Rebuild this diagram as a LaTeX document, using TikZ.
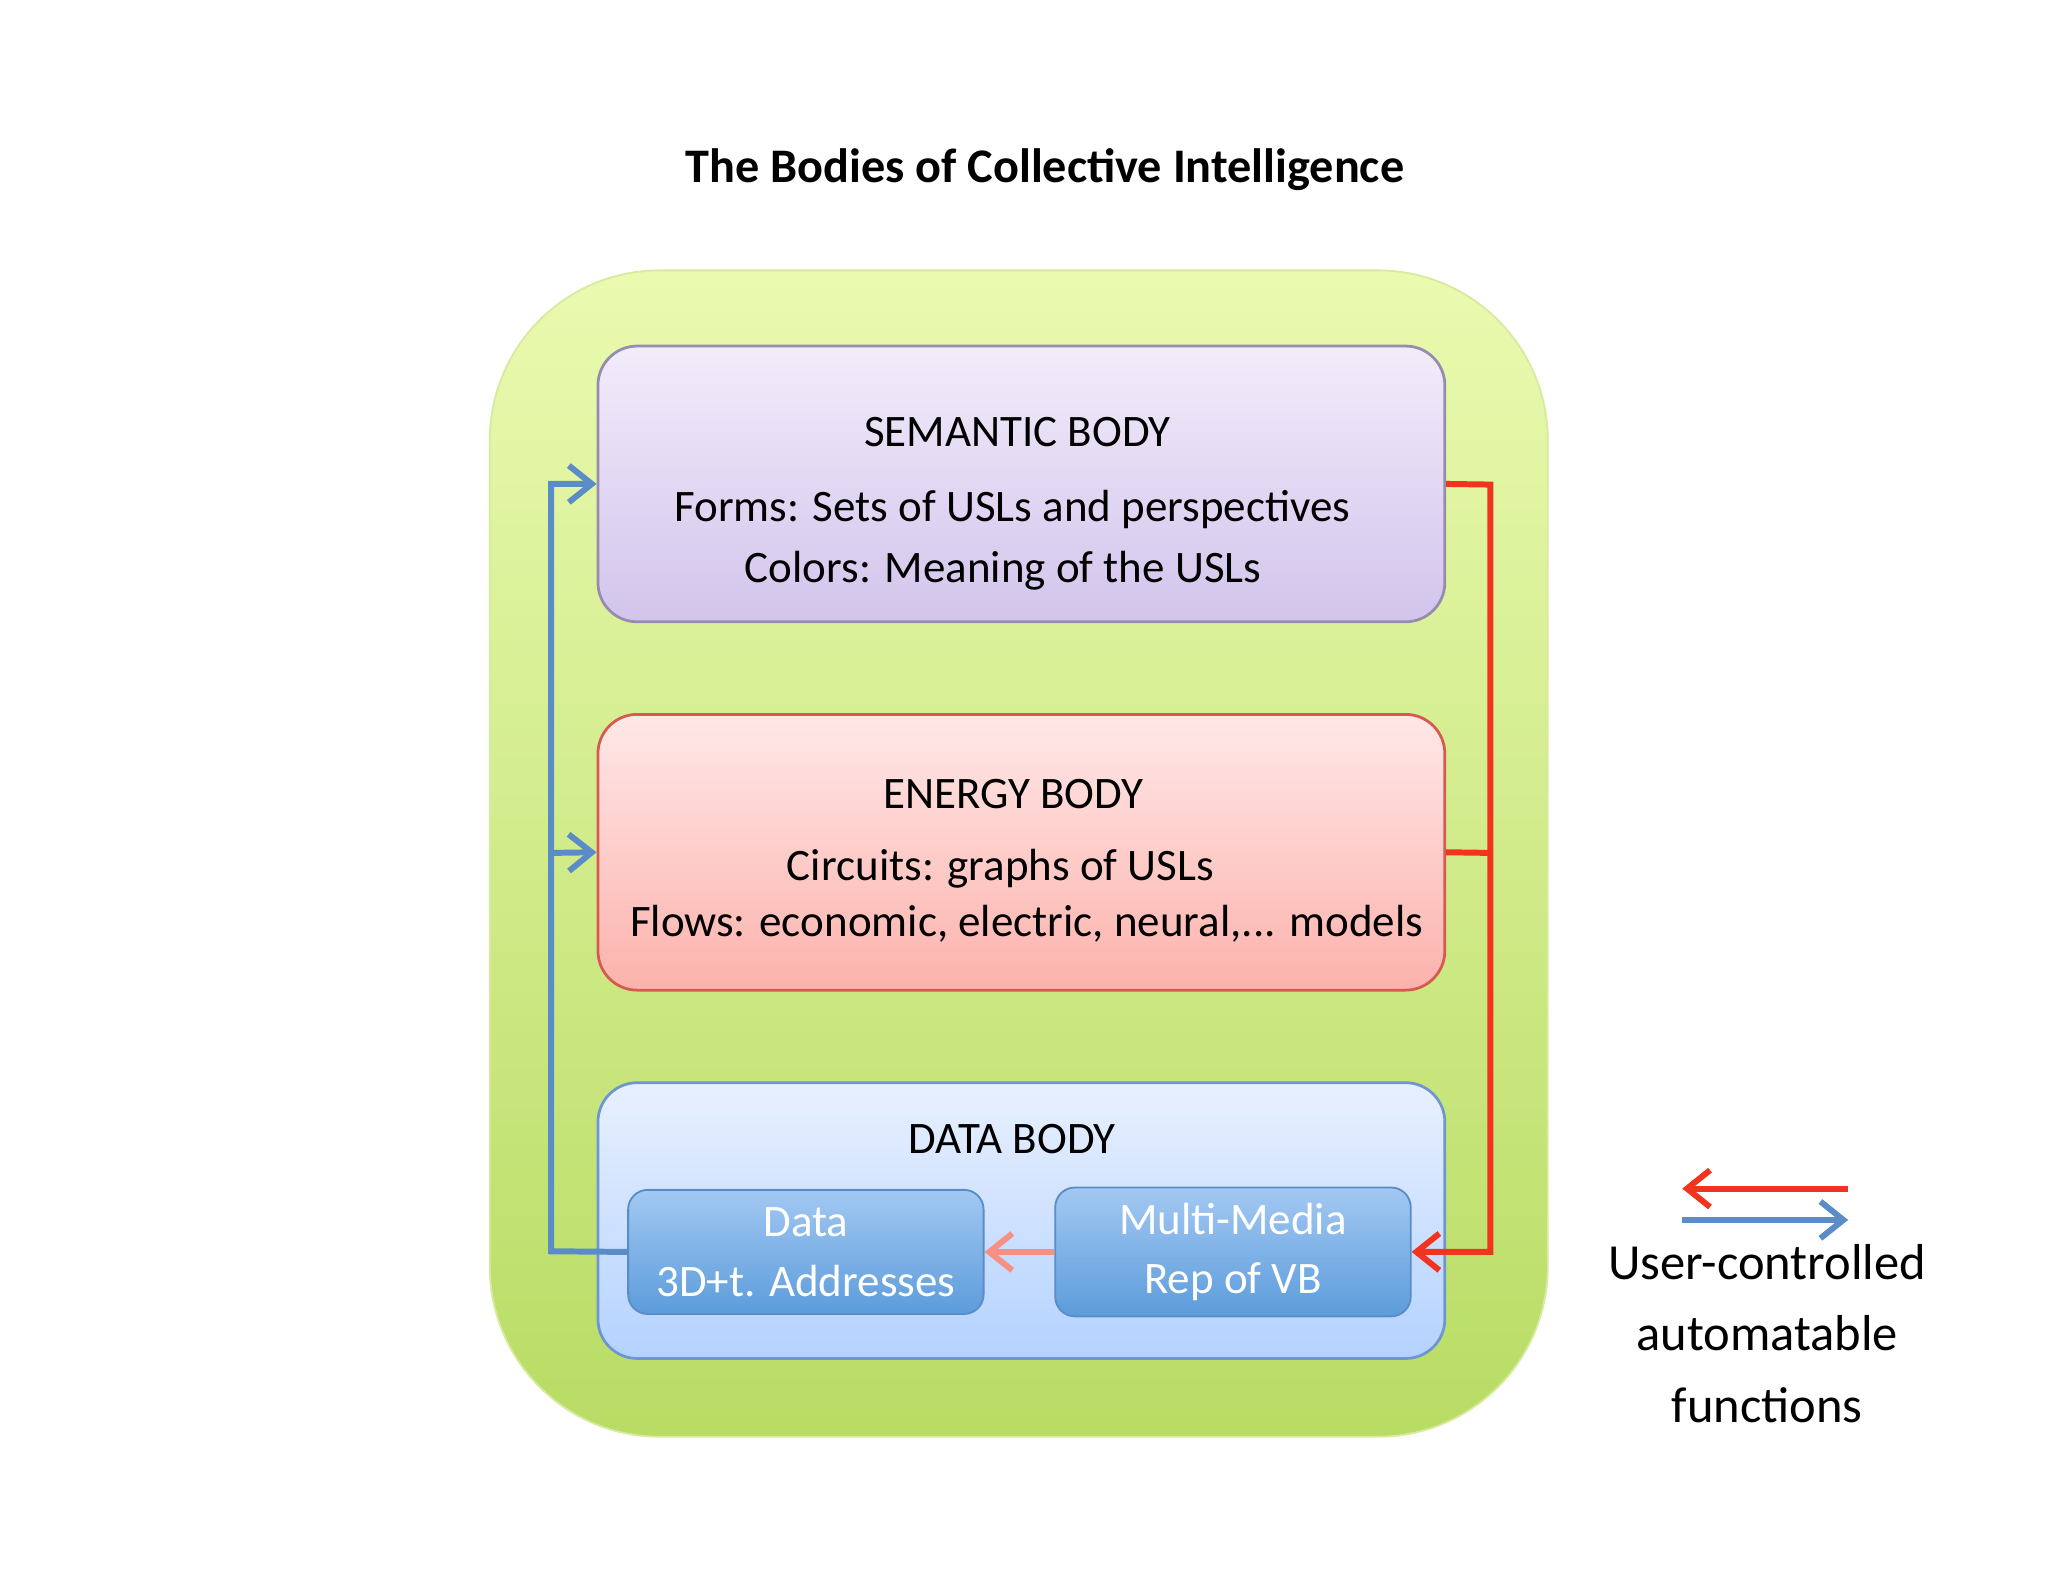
\documentclass[tikz,border=0pt]{standalone}
\usepackage{fontspec}
\setmainfont{Carlito}
\usetikzlibrary{arrows.meta}
\definecolor{redline}{HTML}{F0341E}
\definecolor{blueline}{HTML}{5A8CC8}
\tikzset{
  body/.style={rounded corners=0.3cm, draw, line width=0.6pt, align=center},
  sub/.style={rounded corners=0.15cm, draw=blueline, top color=BoxTop, bottom color=BoxBot, text=white, align=center, font=\fontsize{9.8pt}{13pt}\selectfont},
  rarrow/.style={draw=redline, line width=1.3pt, -{Straight Barb[length=5pt,width=8pt]}},
  barrow/.style={draw=blueline, line width=1.3pt, -{Straight Barb[length=5pt,width=8pt]}},
  txt/.style={font=\fontsize{9.8pt}{13pt}\selectfont}
}
\colorlet{BoxTop}{blue!20!cyan!30!white}
\definecolor{BoxTop}{HTML}{A3C8F2}
\definecolor{BoxBot}{HTML}{5C9CDB}
\begin{document}
\begin{tikzpicture}[x=0.01cm,y=-0.01cm]
\useasboundingbox (0,0) rectangle (1568,1211);
\node[font=\bfseries\fontsize{10.5pt}{13pt}\selectfont] (title) at (800,130) {The Bodies of Collective Intelligence};
% outer
\shade[rounded corners=1.3cm, top color={rgb,255:red,234;green,250;blue,176}, bottom color={rgb,255:red,184;green,220;blue,100}, draw={rgb,255:red,215;green,235;blue,160}] (375,207) rectangle (1185,1100);
% semantic
\node[body, draw={rgb,255:red,150;green,140;blue,175}, top color={rgb,255:red,242;green,236;blue,250}, bottom color={rgb,255:red,210;green,196;blue,236}, minimum width=6.48cm, minimum height=2.11cm] (sem) at (782,370.5) {};
\node[txt] at (779,331) {SEMANTIC BODY};
\node[txt] at (775,390) {Forms: Sets of USLs and perspectives};
\node[txt] at (768,437) {Colors: Meaning of the USLs};
% energy
\node[body, draw={rgb,255:red,215;green,90;blue,80}, top color={rgb,255:red,255;green,232;blue,232}, bottom color={rgb,255:red,252;green,178;blue,172}, minimum width=6.48cm, minimum height=2.11cm] (en) at (782,652.5) {};
\node[txt] at (776,608) {ENERGY BODY};
\node[txt] at (766,665) {Circuits: graphs of USLs};
\node[txt] at (786,707) {Flows: economic, electric, neural,... models};
% data
\node[body, draw={rgb,255:red,110;green,150;blue,210}, top color={rgb,255:red,232;green,240;blue,255}, bottom color={rgb,255:red,180;green,210;blue,255}, minimum width=6.48cm, minimum height=2.11cm] (db) at (782,934.5) {};
\node[txt] at (775,872) {DATA BODY};
\node[sub, minimum width=2.72cm, minimum height=0.95cm] (data) at (617,958.5) {Data\\3D+t. Addresses};
\node[sub, minimum width=2.72cm, minimum height=0.95cm] (mm) at (944,958.5) {Multi-Media\\Rep of VB};
% connectors
\coordinate (bl) at (422,958);
\draw[barrow] (data.west) -- (bl) |- (sem.west);
\draw[barrow] (422,653) -- (en.west);
\coordinate (rr) at (1141,371);
\draw[rarrow] (sem.east) -- (rr) |- (mm.east);
\draw[draw=redline, line width=1.3pt] (en.east) -- (1141,653);
\draw[draw=redline!55, line width=1.3pt, -{Straight Barb[length=5pt,width=8pt]}] (mm.west) -- (data.east);
% legend
\coordinate (l1a) at (1415,910); \coordinate (l1b) at (1288,910);
\coordinate (l2a) at (1288,934); \coordinate (l2b) at (1415,934);
\draw[rarrow] (l1a) -- (l1b);
\draw[barrow] (l2a) -- (l2b);
\node[txt, align=center, font=\fontsize{11pt}{15.5pt}\selectfont] (leg) at (1353,1021) {User-controlled\\automatable\\functions};
\end{tikzpicture}
\end{document}
